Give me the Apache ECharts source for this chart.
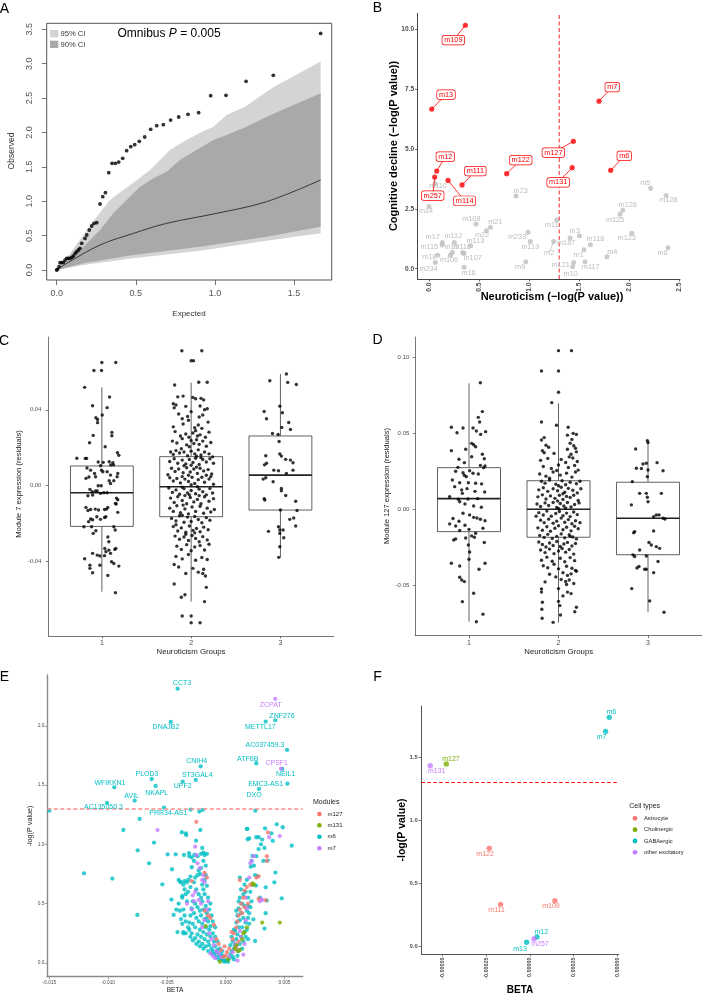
<!DOCTYPE html>
<html><head><meta charset="utf-8">
<script src="https://cdn.jsdelivr.net/npm/echarts@6/dist/echarts.min.js"></script>
<style>html,body{margin:0;padding:0;background:#fff}#c{width:703px;height:994px}</style>
</head><body><div id="c"></div>
<script>
// ================= Panel A : QQ plot =================
const A_POINTS = [[0,0],[0.004,0.01],[0.015,0.048],[0.021,0.107],[0.032,0.107],[0.042,0.111],[0.053,0.145],[0.063,0.17],[0.074,0.17],[0.084,0.17],[0.095,0.184],[0.105,0.204],[0.116,0.242],[0.126,0.267],[0.137,0.291],[0.147,0.315],[0.158,0.388],[0.179,0.46],[0.19,0.509],[0.206,0.582],[0.221,0.64],[0.236,0.679],[0.253,0.688],[0.274,0.96],[0.291,1.066],[0.308,1.125],[0.329,1.415],[0.35,1.551],[0.371,1.551],[0.392,1.57],[0.417,1.624],[0.442,1.735],[0.468,1.794],[0.493,1.823],[0.522,1.871],[0.556,1.934],[0.594,2.046],[0.632,2.099],[0.674,2.113],[0.72,2.18],[0.771,2.225],[0.83,2.264],[0.897,2.288],[0.973,2.535],[1.07,2.54],[1.197,2.744],[1.369,2.83],[1.668,3.44]];
const A_MEDIAN = [[0,0],[0.063,0.097],[0.274,0.364],[0.485,0.533],[0.695,0.679],[1.011,0.824],[1.327,0.994],[1.668,1.309]];
const A_UP95 = [[0,0],[0.084,0.242],[0.169,0.509],[0.253,0.776],[0.337,1.018],[0.421,1.163],[0.485,1.27],[0.59,1.454],[0.716,1.745],[0.8,1.866],[0.906,1.997],[0.99,2.084],[1.074,2.254],[1.19,2.375],[1.369,2.656],[1.668,3.03]];
const A_UP90 = [[0,0],[0.169,0.339],[0.274,0.582],[0.358,0.824],[0.442,1.018],[0.527,1.212],[0.611,1.333],[0.695,1.43],[0.779,1.6],[0.864,1.721],[0.99,1.89],[1.074,1.963],[1.2,2.084],[1.327,2.23],[1.668,2.569]];
const A_LO90 = [[0,0],[0.169,0.097],[0.485,0.218],[0.906,0.339],[1.327,0.485],[1.668,0.63]];
const A_LO95 = [[0,0],[0.169,0.073],[0.485,0.17],[0.906,0.281],[1.327,0.427],[1.668,0.533]];
const A_X_TICKS = [0, 0.5, 1.0, 1.5];
const A_Y_TICKS = [0, 0.5, 1.0, 1.5, 2.0, 2.5, 3.0, 3.5];

// ================= Panel B : module scatter =================
const B_SIG = [['m109',0.363,10.17],['m13',0.027,6.67],['m7',1.698,7.0],['m127',1.442,5.32],['m6',1.815,4.11],['m131',1.43,4.22],['m122',0.776,3.97],['m12',0.077,4.08],['m111',0.33,3.50],['m257',0.057,3.83],['m114',0.19,3.69]];
const B_NS = [['m110',0.06,3.55],['m23',0.869,3.04],['m14',0.0,2.6],['m5',2.214,3.36],['m128',2.368,3.06],['m126',1.935,2.44],['m125',1.908,2.27],['m123',2.025,1.48],['m8',2.388,0.88],['m4',1.778,0.5],['m117',1.558,0.29],['m118',1.612,1.0],['m1',1.548,0.79],['m3',1.502,1.38],['m187',1.409,1.28],['m11',1.275,2.03],['m2',1.245,1.14],['m121',1.445,0.26],['m10',1.435,0.08],['m233',0.989,1.52],['m119',1.012,1.14],['m9',0.966,0.29],['m21',0.613,1.73],['m22',0.573,1.59],['m108',0.47,1.87],['m113',0.416,0.96],['m116',0.336,0.68],['m107',0.35,0.64],['m112',0.253,1.1],['m17',0.133,1.1],['m115',0.133,0.99],['m19',0.233,0.68],['m18',0.087,0.56],['m234',0.063,0.26],['m16',0.35,0.06],['m106',0.213,0.56]];
const B_X_TICKS = [0, 0.5, 1.0, 1.5, 2.0, 2.5];
const B_Y_TICKS = [0, 2.5, 5.0, 7.5, 10.0];
const B_THRESHOLD = 1.301;
// label layout (repelled label anchor, data units)
const B_LABEL_AT = {m109:[0.243,9.55],m13:[0.17,7.27],m7:[1.83,7.59],m127:[1.242,4.85],m6:[1.95,4.71],m131:[1.29,3.61],m122:[0.916,4.54],m12:[0.163,4.68],m111:[0.463,4.08],m257:[0.037,3.05],m114:[0.356,2.84],
 m110:[0.09,3.47],m23:[0.916,3.25],m14:[-0.03,2.41],m5:[2.16,3.57],m128:[2.39,2.86],m126:[1.985,2.65],m125:[1.858,2.05],m123:[1.975,1.28],m8:[2.334,0.67],m4:[1.83,0.70],m117:[1.615,0.07],m118:[1.662,1.23],m1:[1.495,0.57],m3:[1.455,1.59],m187:[1.37,1.09],m11:[1.225,1.81],m2:[1.2,0.67],m121:[1.315,0.17],m10:[1.415,-0.24],m233:[0.88,1.32],m119:[1.012,0.92],m9:[0.91,0.08],m21:[0.663,1.96],m22:[0.53,1.41],m108:[0.423,2.08],m113:[0.463,1.16],m116:[0.33,0.89],m107:[0.436,0.46],m112:[0.243,1.35],m17:[0.037,1.32],m115:[0.003,0.89],m19:[0.226,0.89],m18:[0.003,0.47],m234:[-0.003,-0.03],m16:[0.396,-0.18],m106:[0.2,0.36]};
const B_NS_SEGMENT = ['m2'];

// ================= Panel C : Module 7 =================
const C_GROUPS = [1, 2, 3];
const C_BOX = [[1,-0.0558,-0.0214,-0.0037,0.0104,0.0518],[2,-0.061,-0.0163,-0.0005,0.0153,0.0542],[3,-0.0377,-0.0128,0.0056,0.0262,0.0588]];
const C_Y_TICKS = [-0.04, 0, 0.04];
// [jitter offset from group, residual]
const C_G1 = [[0,0.0649],[0.156,0.0649],[-0.089,0.0607],[-0.004,0.0607],[-0.193,0.0518],[0.086,0.0467],[-0.104,0.0421],[0.059,0.0411],[-0.067,0.0358],[-0.048,0.0349],[-0.048,0.0332],[0.004,0.0372],[0.112,0.0281],[0.112,0.0263],[-0.097,0.0265],[0.037,0.0205],[-0.138,0.0226],[0.175,0.0174],[0.19,0.016],[-0.186,0.0144],[-0.171,0.0144],[-0.28,0.0145],[-0.041,0.0125],[0.015,0.0123],[0.082,0.0126],[0.123,0.0121],[-0.015,0.0105],[0.1,0.0109],[0.13,0.011],[-0.004,0.0082],[0.011,0.0074],[-0.167,0.0093],[-0.145,0.0046],[-0.126,0.0082],[-0.082,0.0065],[-0.071,0.0047],[-0.178,0.0039],[0.059,0.0074],[0.097,0.0056],[0.178,0.0065],[0.171,0.0047],[-0.041,0],[-0.007,0],[0.082,0.0026],[0.134,0.0026],[0.097,0.0012],[-0.134,-0.0019],[-0.108,-0.0032],[-0.071,-0.0028],[-0.015,-0.004],[0.022,-0.0037],[0.059,-0.0037],[-0.156,-0.0053],[-0.104,-0.0049],[-0.052,-0.0028],[0.164,-0.0065],[0.178,-0.0074],[0.152,-0.0093],[-0.178,-0.0114],[-0.156,-0.013],[-0.126,-0.0125],[-0.074,-0.0123],[-0.037,-0.0128],[0.03,-0.0125],[0.052,-0.0123],[0.067,-0.0114],[0.16,-0.0096],[0.178,-0.014],[-0.056,-0.0163],[-0.015,-0.0177],[0.045,-0.0163],[-0.126,-0.0175],[-0.104,-0.0179],[-0.149,-0.0189],[0.03,-0.0167],[-0.201,-0.0216],[-0.115,-0.0216],[-0.067,-0.0237],[-0.097,-0.0251],[0.134,-0.0216],[0.149,-0.0233],[0.067,-0.027],[0.078,-0.0295],[0.033,-0.033],[0.045,-0.0347],[0.078,-0.0339],[0.097,-0.0356],[0.145,-0.0335],[0.156,-0.033],[-0.104,-0.0356],[-0.052,-0.0365],[-0.022,-0.037],[0.03,-0.0368],[-0.193,-0.0384],[-0.134,-0.0418],[-0.022,-0.0418],[0.108,-0.04],[0.134,-0.0409],[0.19,-0.0423],[-0.134,-0.0435],[-0.104,-0.0458],[0.067,-0.0472],[0.152,-0.0563]];
const C_G2 = [[-0.104,0.0711],[0.119,0.0711],[0,0.0658],[0.026,0.0658],[-0.185,0.053],[0.085,0.0545],[0.18,0.0545],[-0.09,0.0472],[-0.15,0.0468],[0.02,0.0465],[0.05,0.0458],[0.11,0.046],[0.14,0.0452],[-0.2,0.0432],[-0.17,0.0425],[-0.19,0.041],[0.1,0.042],[0.15,0.04],[0.18,0.0405],[-0.06,0.0418],[-0.14,0.0378],[0,0.039],[0.09,0.0362],[-0.1,0.0353],[0.13,0.0372],[-0.04,0.0365],[-0.09,0.0325],[-0.03,0.0345],[0.08,0.032],[0.19,0.0335],[-0.2,0.031],[0.04,0.0305],[0.12,0.0302],[-0.18,0.0285],[-0.06,0.0272],[0.02,0.0278],[0.1,0.0268],[0.16,0.0255],[0.2,0.0282],[-0.12,0.0262],[0.05,0.029],[0.07,0.0262],[-0.025,0.0255],[-0.21,0.0235],[-0.16,0.0225],[-0.1,0.0248],[-0.05,0.0215],[0,0.0238],[0.03,0.0222],[0.06,0.0242],[0.09,0.0218],[0.13,0.0235],[0.17,0.0208],[0.22,0.0228],[-0.02,0.0205],[-0.23,0.0178],[-0.2,0.0165],[-0.17,0.0185],[-0.13,0.0172],[-0.08,0.0178],[-0.04,0.0158],[0,0.0182],[0.04,0.0168],[0.08,0.0189],[0.11,0.0162],[0.15,0.0178],[0.2,0.0168],[0.24,0.0152],[-0.11,0.0195],[0.06,0.0155],[-0.24,0.0128],[-0.19,0.0142],[-0.15,0.0118],[-0.1,0.0135],[-0.06,0.0115],[-0.02,0.0138],[0.02,0.0122],[0.05,0.0145],[0.09,0.0112],[0.13,0.0138],[0.17,0.0125],[0.21,0.0142],[0.25,0.0118],[-0.08,0.0105],[0,0.0108],[0.11,0.0148],[-0.22,0.0092],[-0.18,0.0075],[-0.14,0.0088],[-0.09,0.0068],[-0.05,0.0095],[-0.01,0.0072],[0.03,0.0088],[0.07,0.0065],[0.1,0.0092],[0.14,0.0078],[0.19,0.0085],[0.23,0.0062],[-0.26,0.0058],[0.06,0.0098],[-0.03,0.0055],[0.17,0.0055],[-0.24,0.0042],[-0.2,0.0025],[-0.16,0.0038],[-0.12,0.0015],[-0.07,0.0035],[-0.03,0.0022],[0.01,0.0045],[0.04,0.0012],[0.08,0.0032],[0.12,0.0045],[0.15,0.0018],[0.2,0.0035],[0.25,0.0008],[-0.1,0.0048],[0,0.0005],[0.22,0.0048],[-0.25,-0.0012],[-0.21,-0.0035],[-0.17,-0.0022],[-0.13,-0.0045],[-0.08,-0.0015],[-0.04,-0.0038],[0,-0.0025],[0.05,-0.0042],[0.09,-0.0018],[0.13,-0.0032],[0.17,-0.0048],[0.21,-0.0015],[0.24,-0.0038],[-0.1,-0.0008],[0.07,-0.0005],[-0.02,-0.0048],[-0.23,-0.0065],[-0.19,-0.0088],[-0.15,-0.0058],[-0.1,-0.0078],[-0.05,-0.0095],[-0.01,-0.0062],[0.03,-0.0085],[0.07,-0.0072],[0.11,-0.0095],[0.15,-0.0058],[0.2,-0.0082],[0.25,-0.0068],[-0.07,-0.0052],[0.09,-0.0052],[-0.24,-0.0118],[-0.2,-0.0135],[-0.16,-0.0105],[-0.12,-0.0142],[-0.07,-0.0122],[-0.03,-0.0148],[0.01,-0.0112],[0.05,-0.0135],[0.1,-0.0108],[0.14,-0.0145],[0.18,-0.0118],[0.22,-0.0138],[0.26,-0.0125],[-0.09,-0.0102],[-0.22,-0.0172],[-0.17,-0.0185],[-0.13,-0.0158],[-0.08,-0.0192],[-0.04,-0.0165],[0,-0.0188],[0.04,-0.0162],[0.08,-0.0178],[0.12,-0.0195],[0.17,-0.0168],[0.21,-0.0182],[-0.1,-0.0155],[-0.2,-0.0215],[-0.15,-0.0238],[-0.11,-0.0222],[-0.06,-0.0245],[-0.02,-0.0212],[0.02,-0.0235],[0.06,-0.0225],[0.1,-0.0242],[0.14,-0.0218],[0.19,-0.0232],[-0.17,-0.0205],[0.04,-0.0248],[-0.18,-0.0265],[-0.13,-0.0282],[-0.08,-0.027],[-0.03,-0.0288],[0.01,-0.0262],[0.05,-0.0278],[0.09,-0.0295],[0.13,-0.0268],[0.18,-0.0285],[-0.06,-0.0255],[-0.16,-0.0318],[-0.11,-0.0335],[-0.05,-0.031],[0,-0.0342],[0.04,-0.0322],[0.1,-0.0315],[0.15,-0.0338],[0.2,-0.0308],[-0.17,-0.0372],[-0.1,-0.0385],[-0.03,-0.0362],[0.05,-0.0392],[0.12,-0.0378],[0.18,-0.0388],[-0.19,-0.0415],[-0.14,-0.0428],[0.02,-0.0435],[0.14,-0.044],[-0.06,-0.0462],[0.08,-0.0455],[0.16,-0.0475],[0.13,-0.0462],[-0.19,-0.0517],[0.17,-0.0535],[-0.11,-0.0587],[-0.07,-0.0574],[0.15,-0.061],[-0.1,-0.0686],[0,-0.0686],[0,-0.0721],[0.1,-0.0721]];
const C_G3 = [[0.067,0.0588],[-0.119,0.0553],[0.082,0.0544],[0.178,0.0533],[-0.007,0.0419],[-0.182,0.0391],[0.022,0.0384],[-0.156,0.0353],[0.093,0.0333],[0.015,0.0307],[0.112,0.0296],[-0.089,0.0275],[-0.026,0.027],[-0.015,0.0233],[-0.164,0.0158],[-0.007,0.0167],[0.011,0.0156],[0.059,0.0139],[0.112,0.0135],[0.141,0.0121],[-0.178,0.011],[-0.156,0.0118],[-0.074,0.0082],[-0.022,0.0079],[0.067,0.0065],[0.141,0.0082],[-0.193,0.0035],[-0.164,0.0042],[-0.082,0.0021],[0.011,-0.0014],[0.011,-0.0026],[-0.182,-0.0068],[-0.175,-0.0075],[0.059,-0.0051],[0.171,-0.0082],[0,-0.0128],[0.186,-0.013],[0.104,-0.0177],[0.149,-0.017],[0.171,-0.0212],[-0.022,-0.0216],[-0.007,-0.0233],[0.03,-0.0233],[-0.134,-0.024],[-0.007,-0.0251],[0.037,-0.0274],[-0.007,-0.0321],[-0.019,-0.0377]];

// ================= Panel D : Module 127 =================
const D_BOX = [[1,-0.074,-0.0147,0.007,0.0274,0.0829],[2,-0.0746,-0.0184,0.0,0.0188,0.0697],[3,-0.0674,-0.0299,-0.0059,0.0178,0.0451]];
const D_Y_TICKS = [-0.05, 0, 0.05, 0.10];
const D_G1 = [[0.127,0.0833],[0.149,0.0643],[0.104,0.0605],[0.119,0.0575],[-0.197,0.054],[-0.134,0.0504],[-0.067,0.0535],[0.045,0.0535],[0.082,0.0515],[0.13,0.0493],[0.186,0.0511],[0.03,0.0434],[0.052,0.0425],[0.074,0.0412],[-0.037,0.0395],[-0.197,0.0386],[0.149,0.0362],[0.03,0.0346],[0.171,0.0333],[-0.112,0.0329],[-0.052,0.0307],[0.127,0.0289],[0.179,0.0285],[0.164,0.0274],[-0.123,0.0276],[-0.149,0.025],[-0.067,0.0241],[0.007,0.0254],[0.045,0.0237],[0.104,0.0232],[-0.052,0.0224],[-0.03,0.0215],[-0.186,0.0193],[-0.104,0.0175],[-0.007,0.0175],[0.074,0.0171],[0.141,0.0167],[-0.16,0.0149],[-0.082,0.0127],[-0.022,0.0136],[0.067,0.0118],[0.175,0.0114],[-0.074,0.0105],[-0.216,0.0083],[-0.119,0.0066],[-0.011,0.0068],[0.097,0.007],[-0.104,0.005],[-0.045,0.0035],[0.052,0.0022],[0.138,0.0013],[-0.067,-0.0026],[0.007,-0.0037],[0.052,-0.0053],[0.089,-0.0057],[0.127,-0.0066],[0.179,-0.0075],[-0.179,-0.0061],[-0.112,-0.0079],[-0.216,-0.0096],[-0.149,-0.011],[-0.045,-0.0105],[-0.104,-0.014],[0,-0.0132],[0.156,-0.0125],[-0.149,-0.0195],[-0.171,-0.0202],[-0.037,-0.0189],[0.03,-0.0175],[0.06,-0.0184],[0.074,-0.0158],[0.171,-0.0219],[-0.007,-0.0235],[0.007,-0.0281],[0,-0.0329],[-0.197,-0.0355],[-0.104,-0.0373],[0.112,-0.0395],[0.179,-0.0355],[-0.104,-0.0447],[-0.082,-0.0465],[-0.052,-0.0476],[0.052,-0.0553],[-0.074,-0.0608],[0.082,-0.074],[0.156,-0.069]];
const D_G2 = [[0,0.1044],[0.145,0.1044],[-0.19,0.091],[0,0.091],[0,0.077],[-0.075,0.0702],[-0.19,0.0575],[-0.022,0.0553],[0.108,0.054],[0.164,0.05],[-0.16,0.0472],[0.1,0.0488],[0.15,0.046],[0.2,0.0493],[-0.19,0.0456],[-0.14,0.0422],[-0.11,0.0408],[0.13,0.0435],[0.17,0.0418],[0.19,0.0402],[-0.18,0.0385],[-0.16,0.0372],[0.1,0.0395],[0.14,0.0362],[0.2,0.0378],[-0.05,0.0368],[-0.2,0.0322],[0.12,0.0345],[0.16,0.0338],[0.21,0.0315],[0.08,0.0308],[-0.12,0.0335],[0.03,0.0328],[-0.17,0.0282],[-0.08,0.0268],[0,0.0292],[0.11,0.0275],[0.18,0.0288],[0.22,0.0258],[-0.02,0.0255],[-0.21,0.0232],[-0.14,0.0218],[-0.06,0.0245],[0.02,0.0225],[0.09,0.0238],[0.15,0.0212],[0.19,0.0245],[-0.1,0.0205],[-0.19,0.0185],[-0.15,0.0172],[-0.1,0.0192],[-0.03,0.0165],[0.04,0.0188],[0.08,0.0162],[0.13,0.0178],[0.2,0.0168],[0.24,0.0185],[0,0.0155],[-0.22,0.0128],[-0.17,0.0142],[-0.12,0.0118],[-0.06,0.0135],[-0.01,0.0122],[0.03,0.0145],[0.07,0.0112],[0.11,0.0138],[0.16,0.0125],[0.21,0.0108],[0.25,0.0135],[0.05,0.0102],[-0.23,0.0082],[-0.18,0.0095],[-0.14,0.0068],[-0.09,0.0088],[-0.04,0.0072],[0.01,0.0092],[0.05,0.0065],[0.09,0.0085],[0.13,0.0078],[0.17,0.0092],[0.22,0.0058],[-0.01,0.0055],[-0.24,0.0035],[-0.2,0.0018],[-0.15,0.0042],[-0.11,0.0025],[-0.06,0.0045],[-0.02,0.0012],[0.02,0.0038],[0.06,0.0022],[0.1,0.0045],[0.14,0.0015],[0.18,0.0032],[0.23,0.0042],[0,0.0005],[0.08,0.0008],[-0.22,-0.0022],[-0.17,-0.0038],[-0.13,-0.0012],[-0.08,-0.0045],[-0.03,-0.0028],[0.01,-0.0015],[0.05,-0.0042],[0.09,-0.0025],[0.13,-0.0048],[0.17,-0.0018],[0.21,-0.0035],[-0.25,-0.0045],[-0.2,-0.0072],[-0.16,-0.0088],[-0.11,-0.0065],[-0.06,-0.0092],[-0.02,-0.0078],[0.03,-0.0058],[0.07,-0.0085],[0.11,-0.0068],[0.15,-0.0095],[0.19,-0.0075],[0.24,-0.0088],[-0.23,-0.0122],[-0.18,-0.0138],[-0.13,-0.0115],[-0.09,-0.0145],[-0.04,-0.0125],[0,-0.0108],[0.05,-0.0135],[0.09,-0.0118],[0.14,-0.0142],[0.18,-0.0112],[0.22,-0.0128],[-0.21,-0.0172],[-0.16,-0.0185],[-0.12,-0.0165],[-0.07,-0.0192],[-0.02,-0.0178],[0.03,-0.0162],[0.07,-0.0188],[0.12,-0.0168],[0.16,-0.0182],[0.2,-0.0195],[0.13,-0.0178],[-0.22,-0.0215],[-0.18,-0.0232],[-0.14,-0.0248],[-0.1,-0.0222],[-0.06,-0.0238],[-0.02,-0.0212],[0.02,-0.0245],[0.06,-0.0228],[0.1,-0.0218],[0.15,-0.0242],[0.19,-0.0225],[-0.2,-0.0268],[-0.15,-0.0285],[-0.1,-0.0262],[-0.05,-0.0292],[0,-0.0275],[0.04,-0.0258],[0.08,-0.0282],[0.12,-0.0265],[0.17,-0.0295],[-0.19,-0.0335],[-0.13,-0.0315],[-0.07,-0.0342],[0.02,-0.0322],[0.07,-0.0345],[0.13,-0.0318],[0.18,-0.0338],[-0.17,-0.0372],[-0.12,-0.0385],[-0.05,-0.0362],[0,-0.0392],[0.09,-0.0375],[0.15,-0.0388],[0.19,-0.0402],[-0.1,-0.0428],[-0.03,-0.0445],[0.05,-0.0418],[0.1,-0.0435],[0.14,-0.0425],[0.2,-0.0408],[-0.15,-0.0478],[0.03,-0.0462],[0.08,-0.0475],[0.12,-0.0465],[0.17,-0.0488],[0.09,-0.0495],[-0.19,-0.0525],[-0.19,-0.0545],[0,-0.0522],[0.1,-0.0545],[0.14,-0.0555],[0.05,-0.057],[-0.18,-0.0612],[0,-0.0606],[0.2,-0.0645],[-0.186,-0.0658],[-0.183,-0.0717],[-0.06,-0.0744],[0.015,-0.0634],[0.022,-0.0696],[0.182,-0.0674]];
const D_G3 = [[-0.007,0.0452],[0,0.0439],[-0.138,0.0397],[-0.056,0.0298],[-0.13,0.027],[-0.074,0.0268],[-0.019,0.0303],[0,0.0259],[0.101,0.0307],[0.168,0.0254],[-0.007,0.0215],[-0.175,0.0182],[-0.093,0.0105],[-0.019,0.0105],[-0.007,0.0079],[0,0.005],[0.149,0.0105],[-0.186,0.0029],[0.093,-0.0037],[0.123,-0.0037],[0.063,-0.0048],[0.168,-0.0059],[0.19,-0.0064],[-0.149,-0.0147],[-0.16,-0.0154],[0.063,-0.0143],[0.011,-0.0219],[0.037,-0.0235],[0.093,-0.0246],[0.13,-0.0257],[-0.093,-0.0268],[-0.168,-0.03],[-0.149,-0.0311],[-0.019,-0.0307],[0.112,-0.0344],[-0.101,-0.0377],[-0.123,-0.0386],[-0.037,-0.0395],[-0.019,-0.0395],[0.063,-0.0417],[-0.182,-0.0522],[0.019,-0.0603],[0.179,-0.0678]];

// ================= Panel E : volcano =================
const E_MODULES = ['m127', 'm131', 'm6', 'm7'];
const E_M6 = [[-0.0150,1.284],[-0.01206,0.756],[-0.00965,0.711],[-0.00871,1.121],[-0.00752,0.405],[-0.00749,0.95],[-0.00732,1.214],[-0.00652,0.84],[-0.0061,1.015],[-0.00539,0.663],[-0.00494,0.916],[-0.00462,0.534],[-0.00457,0.79],[-0.00443,0.405],[-0.00426,0.916],[-0.00374,1.102],[-0.0034,1.093],[-0.00336,1.079],[-0.00355,0.91],[-0.0036,0.25],[-0.00312,0.925],[-0.00289,0.807],[-0.00267,0.91],[-0.00252,1.031],[-0.00224,1.276],[-0.00216,1.121],[-0.00298,1.293],[-0.00196,1.29],
 [0.00252,1.284],[0.00184,1.13],[0.00187,1.043],[0.00213,0.812],[0.00335,1.135],[0.00389,1.093],[0.00434,1.169],[0.00485,1.144],[0.00562,0.989],[0.004,1.029],[0.00357,0.863],[0.00423,0.762],[0.00414,0.68],[0.00477,0.545],[0.0034,0.638],[0.0027,0.731],[0.00258,0.652],[0.00227,0.902],[0.0034,0.419],[0.00349,0.526],[0.00193,0.48],[0.00235,0.368],[0.0025,0.185],[0.0028,1.06],[0.0026,1.06],[0.0032,0.86],[0.0033,0.97],[0.0029,0.55],[0.0033,0.29],
 [-0.0038,0.68],[-0.0036,0.66],[-0.0035,0.62],[-0.0037,0.55],[-0.0034,0.58],[-0.0033,0.52],[-0.0036,0.45],[-0.0035,0.40],[-0.0038,0.37],[-0.0034,0.35],[-0.0037,0.33],[-0.0031,0.34],[-0.0030,0.40],[-0.0029,0.46],[-0.0028,0.52],[-0.0032,0.60],[-0.0030,0.64],[-0.0027,0.68],[-0.0026,0.72],[-0.0024,0.74],[-0.0022,0.75],[-0.0025,0.62],[-0.0023,0.58],[-0.0021,0.55],[-0.0026,0.50],[-0.0024,0.47],[-0.0022,0.44],[-0.0027,0.42],[-0.0025,0.38],[-0.0023,0.35],[-0.0028,0.33],[-0.0026,0.30],[-0.0031,0.28],[-0.0029,0.25],[-0.0034,0.25],[-0.0032,0.30],[-0.0020,0.66],[-0.0019,0.62],[-0.0018,0.58],[-0.0020,0.52],[-0.0017,0.48],[-0.0019,0.45],[-0.0016,0.42],[-0.0021,0.40],[-0.0018,0.37],[-0.0015,0.35],[-0.0020,0.33],[-0.0017,0.30],[-0.0022,0.28],[-0.0019,0.26],[-0.0024,0.24],[-0.0021,0.22],[-0.0026,0.21],[-0.0023,0.18],[-0.0018,0.20],[-0.0016,0.24],[-0.0014,0.28],[-0.0013,0.31],[-0.0015,0.18],[-0.0013,0.22],[-0.0011,0.25],[-0.0020,0.16],[-0.0017,0.14],[-0.0014,0.15],[-0.0012,0.12],[-0.0010,0.18],[-0.0009,0.14],[-0.0011,0.10],[-0.0008,0.09],[-0.0010,0.07],[-0.0007,0.11],[-0.0006,0.08],[-0.0008,0.05],[-0.0005,0.06],[-0.0004,0.04],[-0.0006,0.03],[-0.0003,0.02],[-0.0002,0.03],[-0.0001,0.01],[0.0000,0.02],[-0.0004,0.07],[-0.0012,0.08],[-0.0015,0.10],[-0.0019,0.12],[-0.0022,0.14],[-0.0025,0.16],[-0.0028,0.19],[-0.0030,0.22],[-0.0016,0.38],[-0.0014,0.45],[-0.0012,0.40],[-0.0018,0.70],[-0.0017,0.74],[-0.0016,0.65],[-0.0015,0.55],[-0.0013,0.50],[-0.0011,0.35],[-0.0009,0.30],[-0.0009,0.22],[-0.0007,0.18],[-0.0005,0.12],[-0.0003,0.10],[-0.0002,0.06],[-0.0021,0.92],[-0.0019,0.93],[-0.0018,0.91],[-0.0016,0.92],[-0.0020,0.97],[-0.0024,0.90],[-0.0017,0.82],[-0.0019,0.86],[-0.0021,0.80],[-0.0023,0.78],[-0.0027,0.86],[-0.0029,0.89],[-0.0031,0.90],[-0.0033,0.68],[-0.0035,0.69],[-0.0039,0.44],[-0.0040,0.50],[-0.0042,0.45],[-0.0036,0.26],[-0.0041,0.26],[-0.0040,0.70],[-0.0039,0.686],[-0.0037,0.565],[-0.0032,0.70],[-0.0030,0.728],
 [0.0003,0.04],[0.0004,0.07],[0.0005,0.10],[0.0006,0.05],[0.0007,0.12],[0.0008,0.15],[0.0006,0.18],[0.0009,0.20],[0.0010,0.24],[0.0008,0.27],[0.0011,0.30],[0.0009,0.34],[0.0012,0.36],[0.0010,0.40],[0.0013,0.42],[0.0011,0.46],[0.0014,0.50],[0.0012,0.55],[0.0015,0.58],[0.0013,0.62],[0.0016,0.66],[0.0018,0.70],[0.0017,0.60],[0.0019,0.55],[0.0016,0.48],[0.0018,0.44],[0.0015,0.38],[0.0017,0.34],[0.0014,0.30],[0.0016,0.26],[0.0013,0.22],[0.0015,0.18],[0.0012,0.16],[0.0014,0.12],[0.0011,0.10],[0.0010,0.06],[0.0007,0.03],[0.0002,0.01],[0.0001,0.02],[0.0019,0.38],[0.0020,0.42],[0.0021,0.47],[0.0020,0.33],[0.0018,0.28],[0.0017,0.22],[0.0019,0.20],[0.0022,0.52],[0.0021,0.60],[0.0023,0.66],[0.0025,0.74],[0.0024,0.82],[0.0022,0.86],[0.0026,0.90],[0.0028,0.96],[0.0030,1.00],[0.0012,0.72],[0.0011,0.52],[0.0009,0.44],[0.0007,0.28],[0.0005,0.22],[0.0004,0.15],[0.0020,1.05],[0.0018,1.13],[0.0031,1.04]];
const E_M7 = [[-0.0058,1.12],[-0.0026,0.98],[-0.0025,0.91],[-0.0024,0.84],[-0.0022,0.80],[-0.0019,0.74],[-0.0020,0.70],[-0.0018,0.68],[-0.0026,0.60],[-0.0028,0.57],[-0.0027,0.52],[-0.0023,0.53],[-0.0021,0.50],[-0.0015,0.52],[-0.0016,0.45],[-0.0018,0.36],[-0.0020,0.30],[-0.0014,0.25],[-0.0012,0.20],[-0.0010,0.15],[-0.0008,0.10],[-0.0006,0.08],[-0.0013,0.08],[-0.0011,0.06],[-0.0004,0.05],[0.0003,0.05],[0.0006,0.09],[0.0008,0.16],[0.0013,0.22],[0.0015,0.07],[0.0012,0.27],[0.0018,0.46],[0.0017,0.55],[0.0020,0.72],[0.0021,0.84],[0.0022,0.86],[0.0024,0.90],[0.0031,0.53],[0.0030,0.54],[0.0029,0.52],[0.0037,1.06],[0.0046,1.07],[0.0016,0.16],[0.0010,0.02],[0.0011,0.11],[-0.0033,0.50],[0.0009,0.14],[-0.0029,0.45],[-0.0009,0.04],[0.0017,0.36]];
const E_M127 = [[-0.0025,1.19],[-0.0029,0.69],[-0.0018,0.76],[-0.0016,0.72],[-0.0018,0.44],[-0.0015,0.40],[-0.0013,0.38],[-0.0010,0.32],[-0.0008,0.20],[-0.0006,0.16],[-0.0004,0.11],[-0.0002,0.05],[0.0000,0.06],[0.0001,0.09],[0.0003,0.12],[0.0006,0.20],[0.0007,0.25],[0.0009,0.30],[0.0010,0.35],[0.0011,0.40],[0.0012,0.45],[0.0013,0.50],[0.0015,0.55],[0.0016,0.61],[0.0018,0.64],[0.0021,0.66],[0.0012,0.70],[0.0014,0.42],[0.0016,0.47],[0.0019,0.50],[0.0022,0.66],[0.0028,0.54],[0.0035,0.90],[0.0035,0.86],[0.0036,1.10],[0.0034,0.53],[0.0008,0.12],[0.0011,0.18],[0.0005,0.26],[-0.0001,0.14],[0.0028,0.73],[0.0026,0.72]];
const E_M131 = [[-0.0017,0.31],[-0.0005,0.01],[0.0002,0.03],[0.0008,0.12],[0.0010,0.10],[0.0012,0.11],[0.0014,0.20],[0.0016,0.26],[0.0018,0.30],[0.0023,0.67],[0.0024,0.66],[0.0031,0.34],[0.0046,0.34],[0.0009,0.15],[0.0015,0.25]];
// labelled genes: [name, beta, -log10 p, module]
const E_GENES = [['CCT3',-0.00409,2.313,'m6'],['ZCPAT',0.00422,2.226,'m7'],['ZNF276',0.00422,2.046,'m6'],['METTL17',0.0034,2.035,'m6'],['DNAJB2',-0.00468,2.032,'m6'],['AC037459.3',0.00522,1.796,'m6'],['ATF6B',0.0026,1.684,'m6'],['CPSF1',0.00471,1.638,'m7'],['NEIL1',0.00482,1.636,'m6'],['CNIH4',-0.00213,1.658,'m6'],['ST3GAL4',-0.00255,1.543,'m6'],['PLOD3',-0.0063,1.551,'m6'],['UPF2',-0.00366,1.529,'m6'],['WFIKKN1',-0.00948,1.481,'m6'],['EMC3-AS1',0.00525,1.512,'m6'],['NKAPL',-0.00596,1.492,'m6'],['AVIL',-0.00775,1.369,'m6'],['DXO',0.00283,1.467,'m6'],['AC135050.3',-0.0101,1.349,'m6'],['PRR34-AS1',-0.00525,1.31,'m6']];
const E_LABEL_AT = {'CCT3':[-0.00372,2.361],'ZCPAT':[0.00383,2.175],'ZNF276':[0.00479,2.085],'METTL17':[0.00295,1.993],'DNAJB2':[-0.00508,1.987],'AC037459.3':[0.00334,1.835],'ATF6B':[0.00187,1.723],'CPSF1':[0.00434,1.684],'NEIL1':[0.0051,1.594],'CNIH4':[-0.00247,1.70],'ST3GAL4':[-0.00242,1.588],'PLOD3':[-0.0067,1.596],'UPF2':[-0.00366,1.49],'WFIKKN1':[-0.00985,1.515],'EMC3-AS1':[0.0034,1.507],'NKAPL':[-0.00587,1.431],'AVIL':[-0.008,1.408],'DXO':[0.00241,1.417],'AC135050.3':[-0.0104,1.313],'PRR34-AS1':[-0.00488,1.262]};
const E_X_TICKS = [-0.015, -0.010, -0.005, 0.000, 0.005];
const E_Y_TICKS = [0, 0.5, 1.0, 1.5, 2.0];

// ================= Panel F : module-level =================
const F_CELLTYPES = ['Astrocyte', 'Cholinergic', 'GABAergic', 'other excitatory'];
const F_POINTS = [['m6',0.000455,1.817,'GABAergic'],['m7',0.000434,1.706,'GABAergic'],['m127',-0.000478,1.447,'Cholinergic'],['m131',-0.00057,1.433,'other excitatory'],['m122',-0.000232,0.778,'Astrocyte'],['m111',-0.000167,0.333,'Astrocyte'],['m109',0.000144,0.362,'Astrocyte'],['m12',0.0000412,0.074,'GABAergic'],['m257',0.000024,0.058,'other excitatory'],['m13',-0.0000179,0.032,'GABAergic']];
const F_LABEL_AT = {m6:[0.000467,1.86],m7:[0.000411,1.664],m127:[-0.000451,1.486],m131:[-0.000533,1.391],m122:[-0.000256,0.735],m111:[-0.00019,0.288],m109:[0.000121,0.322],m12:[0.000066,0.116],m257:[0.0000584,0.018],m13:[-0.000056,-0.021]};
const F_X_TICKS = [-0.0005, -0.00025, 0, 0.00025, 0.0005];
const F_Y_TICKS = [0, 0.5, 1.0, 1.5];

// ================= styles =================
const SANS = '"Liberation Sans", Arial, Helvetica, sans-serif';
const SERIF = '"Liberation Serif", "Times New Roman", serif';
const PAL = {m127:'#F8766D', m131:'#7CAE00', m6:'#00BFC4', m7:'#C77CFF',
  'Astrocyte':'#F8766D','Cholinergic':'#7CAE00','GABAergic':'#00BFC4','other excitatory':'#C77CFF'};

const chart = echarts.init(document.getElementById('c'), null, {renderer:'canvas', width:703, height:994});

function grid(l,t,w,h,extra){ return Object.assign({left:l, top:t, width:w, height:h, containLabel:false, outerBoundsMode:'none'}, extra||{}); }

function valAxis(gi, min, max, ticks, o){
  o = o || {};
  return {
    type:'value', gridIndex:gi, min:min, max:max, scale:true,
    splitLine:{show:false},
    axisLine:{show:o.line!==false, onZero:false, lineStyle:{color:o.lineColor||'#555', width:o.lineWidth||0.8}},
    axisTick:{show:true, customValues:ticks, length:o.tickLen||2.5, lineStyle:{color:o.lineColor||'#555', width:o.tickWidth||0.8}},
    axisLabel:{customValues:ticks, formatter:function(v){ return (+v).toFixed(o.dec); },
      color:o.labelColor||'#4d4d4d', fontSize:o.fontSize||7, fontFamily:o.font||SANS, fontWeight:o.bold?'bold':'normal',
      margin:o.margin!=null?o.margin:3, rotate:o.rotate||0}
  };
}

// label renderer: custom series drawing text (with optional box & segment) via axis scales
function labelSeries(gi, items, o){
  // items: [x, y, lx, ly, text, color, segment]
  return {
    type:'custom', xAxisIndex:gi, yAxisIndex:gi, silent:true, clip:false, z:o.z||6,
    data: items.map(function(d){ return [d[0], d[1]]; }),
    renderItem:function(params, api){
      const d = items[params.dataIndex];
      const a = api.coord([d[0], d[1]]), b = api.coord([d[2], d[3]]);
      const ch = [];
      if (d[6]) ch.push({type:'line', shape:{x1:a[0],y1:a[1],x2:b[0],y2:b[1]}, style:{stroke:d[5], lineWidth:0.8}});
      const st = {text:d[4], fill:d[5], font:(o.fontSize||7)+'px '+SANS, align:'center', verticalAlign:'middle'};
      if (o.box){ st.backgroundColor='#fff'; st.borderColor=d[5]; st.borderWidth=0.7; st.borderRadius=2; st.padding=[1.2,1.8,0.6,1.8]; }
      ch.push({type:'text', x:b[0], y:b[1], style:st});
      return {type:'group', children:ch};
    }
  };
}

function boxSeries(gi, boxes, hw){
  return {
    type:'custom', xAxisIndex:gi, yAxisIndex:gi, silent:true, z:2,
    data: boxes, encode:{x:0, y:[1,2,3,4,5]},
    renderItem:function(params, api){
      const x=api.value(0), lo=api.value(1), q1=api.value(2), md=api.value(3), q3=api.value(4), hi=api.value(5);
      const tl=api.coord([x-hw,q3]), br=api.coord([x+hw,q1]);
      const m1=api.coord([x-hw,md]), m2=api.coord([x+hw,md]);
      const top=api.coord([x,hi]), bot=api.coord([x,lo]), t3=api.coord([x,q3]), b1=api.coord([x,q1]);
      const st={stroke:'#3a3a3a', lineWidth:0.8};
      return {type:'group', children:[
        {type:'line', shape:{x1:top[0],y1:top[1],x2:t3[0],y2:t3[1]}, style:st},
        {type:'line', shape:{x1:b1[0],y1:b1[1],x2:bot[0],y2:bot[1]}, style:st},
        {type:'rect', shape:{x:tl[0],y:tl[1],width:br[0]-tl[0],height:br[1]-tl[1]}, style:{stroke:'#3a3a3a',lineWidth:0.8,fill:'#fff'}},
        {type:'line', shape:{x1:m1[0],y1:m1[1],x2:m2[0],y2:m2[1]}, style:{stroke:'#222',lineWidth:1.6}}
      ]};
    }
  };
}

function jitterPoints(gi, groupX, pts){
  return {type:'scatter', xAxisIndex:gi, yAxisIndex:gi, silent:true, z:3, symbolSize:3.4,
    itemStyle:{color:'#000'}, data: pts.map(function(p){ return [groupX + p[0], p[1]]; })};
}

// ---- assemble series ----
const series = [];

// A bands
series.push({type:'custom', xAxisIndex:0, yAxisIndex:0, silent:true, z:1, data:[[0,0]],
  renderItem:function(p, api){
    const poly=function(up,lo){ return up.map(function(d){return api.coord(d);}).concat(lo.slice().reverse().map(function(d){return api.coord(d);})); };
    return {type:'group', children:[
      {type:'polygon', shape:{points:poly(A_UP95,A_LO95)}, style:{fill:'#d4d4d4'}},
      {type:'polygon', shape:{points:poly(A_UP90,A_LO90)}, style:{fill:'#a9a9a9'}}
    ]};
  }});
series.push({type:'line', xAxisIndex:0, yAxisIndex:0, silent:true, z:2, data:A_MEDIAN, showSymbol:false, smooth:0.35,
  lineStyle:{color:'#1a1a1a', width:0.8}});
series.push({type:'scatter', xAxisIndex:0, yAxisIndex:0, silent:true, z:3, data:A_POINTS, symbolSize:3.8, itemStyle:{color:'#000'}});

// B threshold (vertical dashed red line at -log10(0.05))
series.push({type:'line', xAxisIndex:1, yAxisIndex:1, silent:true, z:2, showSymbol:false, symbol:'none',
  data:[[B_THRESHOLD,-0.43],[B_THRESHOLD,10.67]], lineStyle:{color:'#f24b4b', type:[4,2.5], width:1.2}});
// B points
series.push({type:'scatter', xAxisIndex:1, yAxisIndex:1, silent:true, z:3, symbolSize:5,
  itemStyle:{color:'#bebebe'}, data:B_NS.map(function(d){return [d[1],d[2]];})});
series.push(labelSeries(1, B_NS.map(function(d){ const l=B_LABEL_AT[d[0]]; return [d[1],d[2],l[0],l[1],d[0],'#bdbdbd', B_NS_SEGMENT.indexOf(d[0])>=0]; }), {fontSize:7.3, z:4}));
series.push(labelSeries(1, B_SIG.map(function(d){ const l=B_LABEL_AT[d[0]]; return [d[1],d[2],l[0],l[1],d[0],'#ff0000', true]; }), {fontSize:7.3, box:true, z:6}));
series.push({type:'scatter', xAxisIndex:1, yAxisIndex:1, silent:true, z:7, symbolSize:5.2,
  itemStyle:{color:'#ff0000'}, data:B_SIG.map(function(d){return [d[1],d[2]];})});

// C
series.push(boxSeries(2, C_BOX, 0.352));
series.push(jitterPoints(2, C_GROUPS[0], C_G1));
series.push(jitterPoints(2, C_GROUPS[1], C_G2));
series.push(jitterPoints(2, C_GROUPS[2], C_G3));
// D
series.push(boxSeries(3, D_BOX, 0.352));
series.push(jitterPoints(3, C_GROUPS[0], D_G1));
series.push(jitterPoints(3, C_GROUPS[1], D_G2));
series.push(jitterPoints(3, C_GROUPS[2], D_G3));

// E
const E_DATA = {m6:E_M6, m7:E_M7, m127:E_M127, m131:E_M131};
['m6','m7','m127','m131'].forEach(function(m, i){
  const pts = E_DATA[m].concat(E_GENES.filter(function(g){return g[3]===m;}).map(function(g){return [g[1],g[2]];}));
  const s = {type:'scatter', xAxisIndex:4, yAxisIndex:4, silent:true, z:3+i, symbolSize:4.3,
    itemStyle:{color:PAL[m]}, data:pts};
  if (i===0) s.markLine = {silent:true, symbol:'none', label:{show:false}, lineStyle:{color:'#ff8c8c', type:[4,2.5], width:1.6}, data:[{yAxis:1.301}]};
  series.push(s);
});
series.push(labelSeries(4, E_GENES.map(function(g){ const l=E_LABEL_AT[g[0]]; return [g[1],g[2],l[0],l[1],g[0],PAL[g[3]],false]; }), {fontSize:7, z:8}));

// F
F_CELLTYPES.forEach(function(ct, i){
  const s = {type:'scatter', xAxisIndex:5, yAxisIndex:5, silent:true, z:3, symbolSize:5.4,
    itemStyle:{color:PAL[ct]}, data:F_POINTS.filter(function(p){return p[3]===ct;}).map(function(p){return [p[1],p[2]];})};
  if (i===0) s.markLine = {silent:true, symbol:'none', label:{show:false}, lineStyle:{color:'#ff0000', type:[3.5,2.5], width:1}, data:[{yAxis:1.301}]};
  series.push(s);
});
series.push(labelSeries(5, F_POINTS.map(function(p){ const l=F_LABEL_AT[p[0]]; return [p[1],p[2],l[0],l[1],p[0],PAL[p[3]],false]; }), {fontSize:7, z:8}));

// ---- graphic: panel letters, titles, legends ----
function txt(x,y,text,font,opts){
  opts=opts||{};
  return {type:'text', x:x, y:y, rotation:opts.rot||0, silent:true, z:100,
    style:{text:text, font:font, fill:opts.fill||'#000', align:opts.align||'center', verticalAlign:'middle', rich:opts.rich}};
}
const graphic = [
  txt(4.5,9,'A','14px '+SANS), txt(377.5,8,'B','14px '+SANS), txt(4,341,'C','14px '+SANS),
  txt(377.5,340,'D','14px '+SANS), txt(4.5,677,'E','14px '+SANS), txt(377.5,677,'F','14px '+SANS),
  // A
  txt(12,151,'Observed','8.5px '+SANS,{rot:Math.PI/2, fill:'#333'}),
  txt(189,314,'Expected','8px '+SANS,{fill:'#333'}),
  {type:'rect', shape:{x:50,y:30,width:8.3,height:7.3}, style:{fill:'#d4d4d4'}, z:100},
  {type:'rect', shape:{x:50,y:40.7,width:8.3,height:7.3}, style:{fill:'#a9a9a9'}, z:100},
  txt(60.5,33.8,'95% CI','7.6px '+SANS,{align:'left', fill:'#333'}),
  txt(60.5,44.5,'90% CI','7.6px '+SANS,{align:'left', fill:'#333'}),
  txt(117.5,33.5,'Omnibus {i|P} = 0.005','12px '+SANS,{align:'left', rich:{i:{font:'italic 12px '+SANS, fill:'#000'}}}),
  // B
  txt(393.5,146,'Cognitive decline (\u2212log(P value))','bold 11px '+SANS,{rot:Math.PI/2}),
  txt(552,296.5,'Neuroticism (\u2212log(P value))','bold 11px '+SANS),
  // C
  txt(19,484,'Module 7 expression (residuals)','7.6px '+SANS,{rot:Math.PI/2, fill:'#222'}),
  txt(191,652,'Neuroticism Groups','7.8px '+SANS,{fill:'#222'}),
  // D
  txt(386.7,486,'Module 127 expression (residuals)','7.6px '+SANS,{rot:Math.PI/2, fill:'#222'}),
  txt(558.7,652.3,'Neuroticism Groups','7.8px '+SANS,{fill:'#222'}),
  // E
  txt(30.5,826,'-log(P value)','7.2px '+SANS,{rot:Math.PI/2, fill:'#222'}),
  txt(175,990,'BETA','6.6px '+SANS,{fill:'#222'}),
  txt(313,802,'Modules','7px '+SANS,{align:'left', fill:'#222'}),
  // F
  txt(401.7,830,'-log(P value)','bold 10.5px '+SANS,{rot:Math.PI/2}),
  txt(520,990,'BETA','bold 10px '+SANS),
  txt(629.3,806,'Cell types','7px '+SANS,{align:'left', fill:'#222'})
];
const E_LEG_Y = [814, 825.3, 836.7, 848.3];
E_MODULES.forEach(function(m,i){
  graphic.push({type:'circle', shape:{cx:319.4, cy:E_LEG_Y[i], r:2.3}, style:{fill:PAL[m]}, z:100, silent:true});
  graphic.push(txt(327.5, E_LEG_Y[i], m, '6px '+SANS, {align:'left', fill:'#222'}));
});
const F_LEG_Y = [818.3, 829.7, 841, 852.3];
F_CELLTYPES.forEach(function(c,i){
  graphic.push({type:'circle', shape:{cx:635, cy:F_LEG_Y[i], r:2.4}, style:{fill:PAL[c]}, z:100, silent:true});
  graphic.push(txt(644, F_LEG_Y[i], c, '5.8px '+SANS, {align:'left', fill:'#222'}));
});

const option = {
  animation:false,
  backgroundColor:'#fff',
  grid:[
    grid(46.7, 23.3, 285, 256.7, {show:true, borderColor:'#555', borderWidth:1, backgroundColor:'transparent'}),
    grid(417.7, 13.3, 262.3, 265.7),
    grid(48.3, 337, 285.7, 299),
    grid(415.3, 337, 286.4, 298.7),
    grid(47.3, 675, 255.4, 301.7),
    grid(421.3, 706, 197.4, 248)
  ],
  xAxis:[
    valAxis(0, -0.0632, 1.738, A_X_TICKS, {dec:1, line:false, tickLen:5, fontSize:9, margin:9.5, labelColor:'#555', lineColor:'#555'}),
    valAxis(1, -0.113, 2.507, B_X_TICKS, {dec:1, bold:true, fontSize:6.6, rotate:90, margin:3.5, lineColor:'#444', lineWidth:1}),
    valAxis(2, 0.4, 3.6, C_GROUPS, {dec:0, fontSize:7, margin:3.5, lineColor:'#555'}),
    valAxis(3, 0.4, 3.6, C_GROUPS, {dec:0, fontSize:7, margin:3.5, lineColor:'#555'}),
    valAxis(4, -0.01518, 0.00655, E_X_TICKS, {dec:3, fontSize:4.8, margin:3, lineColor:'#8a8a8a', lineWidth:1.4}),
    valAxis(5, -0.000621, 0.000509, F_X_TICKS, {dec:5, bold:true, fontSize:5.4, rotate:90, margin:3.5, lineColor:'#555', lineWidth:1})
  ],
  yAxis:[
    valAxis(0, -0.145, 3.587, A_Y_TICKS, {dec:1, line:false, tickLen:5, fontSize:9, margin:13, rotate:90, labelColor:'#555', lineColor:'#555'}),
    valAxis(1, -0.43, 10.67, B_Y_TICKS, {dec:1, bold:true, fontSize:6.6, margin:3.5, lineColor:'#444', lineWidth:1}),
    valAxis(2, -0.0791, 0.0783, C_Y_TICKS, {dec:2, fontSize:6.5, font:SERIF, margin:7, lineColor:'#555'}),
    valAxis(3, -0.0832, 0.1134, D_Y_TICKS, {dec:2, fontSize:6, margin:6, lineColor:'#555'}),
    valAxis(4, -0.116, 2.428, E_Y_TICKS, {dec:1, fontSize:4.8, margin:3, lineColor:'#8a8a8a', lineWidth:1.4}),
    valAxis(5, -0.061, 1.907, F_Y_TICKS, {dec:1, bold:true, fontSize:6, margin:3.5, lineColor:'#555', lineWidth:1})
  ],
  series: series,
  graphic: graphic
};
chart.setOption(option);
</script>
</body></html>
